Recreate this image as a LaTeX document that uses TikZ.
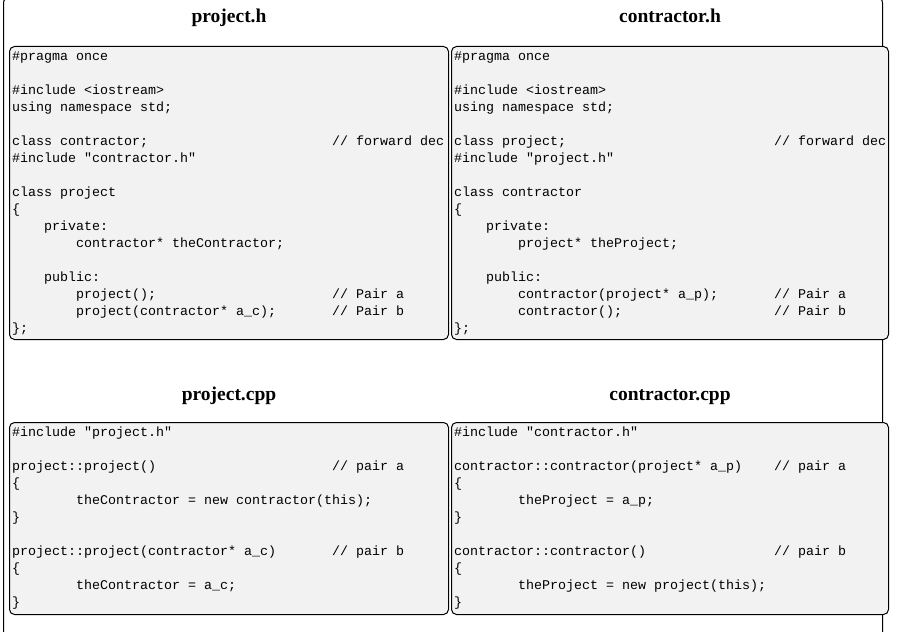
\documentclass[tikz,border=0pt]{standalone}
\usepackage{fontspec}
\usepackage{tikz}
\usetikzlibrary{positioning}
\newfontfamily\codefont{Liberation Mono}
\newfontfamily\titlefont{Liberation Serif}
\definecolor{boxgray}{HTML}{F2F2F2}
\newlength{\chw}\setlength{\chw}{8pt}
\newcommand{\indt}[1]{\hspace*{#1\chw}}
\newcommand{\cmt}[2][40]{\makebox[#1\chw][l]{#2}}
\tikzstyle{outerframe} = [draw,line width=1pt,rounded corners=6pt]
\tikzstyle{codebox} = [draw,line width=1pt,rounded corners=5pt,fill=boxgray,inner sep=0pt,anchor=north west]
\tikzstyle{codetext} = [font=\codefont\fontsize{13.33}{17}\selectfont,align=left,inner sep=0pt,anchor=north west]
\tikzstyle{filetitle} = [font=\titlefont\bfseries\fontsize{19.5}{22}\selectfont,inner sep=0pt,anchor=base]

\begin{document}
\begin{tikzpicture}[x=1pt,y=-1pt]
    \useasboundingbox (0,0) rectangle (901,631);
    \begin{scope}
      \clip (0,0) rectangle (901,631);
      \draw[outerframe] (3.5,-3) rectangle (882.5,700);
    \end{scope}

    % header files
    \node[codebox,minimum width=439pt,minimum height=293pt] (phbox) at (9,46) {};
    \node[codebox,minimum width=437pt,minimum height=293pt] (chbox) at (451,46) {};
    % source files
    \node[codebox,minimum width=439pt,minimum height=192pt] (pcbox) at (9,422) {};
    \node[codebox,minimum width=437pt,minimum height=192pt] (ccbox) at (451,422) {};

    \node[filetitle] (phtitle) at ([yshift=23pt]phbox.north) {project.h};
    \node[filetitle] (chtitle) at ([yshift=23pt]chbox.north) {contractor.h};
    \node[filetitle] (pctitle) at ([yshift=22pt]pcbox.north) {project.cpp};
    \node[filetitle] (cctitle) at ([yshift=22pt]ccbox.north) {contractor.cpp};

    \node[codetext] (phcode) at ([xshift=3pt,yshift=-2pt]phbox.north west) {%
      \strut\#pragma once\\
      \\
      \#include <iostream>\\
      using namespace std;\\
      \\
      \cmt{class contractor;}// forward dec\\
      \#include "contractor.h"\\
      \\
      class project\\
      \{\\
      \indt{4}private:\\
      \indt{8}contractor* theContractor;\\
      \\
      \indt{4}public:\\
      \indt{8}\cmt[32]{project();}// Pair a\\
      \indt{8}\cmt[32]{project(contractor* a\_c);}// Pair b\\
      \};};

    \node[codetext] (chcode) at ([xshift=3pt,yshift=-2pt]chbox.north west) {%
      \strut\#pragma once\\
      \\
      \#include <iostream>\\
      using namespace std;\\
      \\
      \cmt{class project;}// forward dec\\
      \#include "project.h"\\
      \\
      class contractor\\
      \{\\
      \indt{4}private:\\
      \indt{8}project* theProject;\\
      \\
      \indt{4}public:\\
      \indt{8}\cmt[32]{contractor(project* a\_p);}// Pair a\\
      \indt{8}\cmt[32]{contractor();}// Pair b\\
      \};};

    \node[codetext] (pccode) at ([xshift=3pt,yshift=-2pt]pcbox.north west) {%
      \strut\#include "project.h"\\
      \\
      \cmt{project::project()}// pair a\\
      \{\\
      \indt{8}theContractor = new contractor(this);\\
      \}\\
      \\
      \cmt{project::project(contractor* a\_c)}// pair b\\
      \{\\
      \indt{8}theContractor = a\_c;\\
      \}};

    \node[codetext] (cccode) at ([xshift=3pt,yshift=-2pt]ccbox.north west) {%
      \strut\#include "contractor.h"\\
      \\
      \cmt{contractor::contractor(project* a\_p)}// pair a\\
      \{\\
      \indt{8}theProject = a\_p;\\
      \}\\
      \\
      \cmt{contractor::contractor()}// pair b\\
      \{\\
      \indt{8}theProject = new project(this);\\
      \}};
\end{tikzpicture}
\end{document}
